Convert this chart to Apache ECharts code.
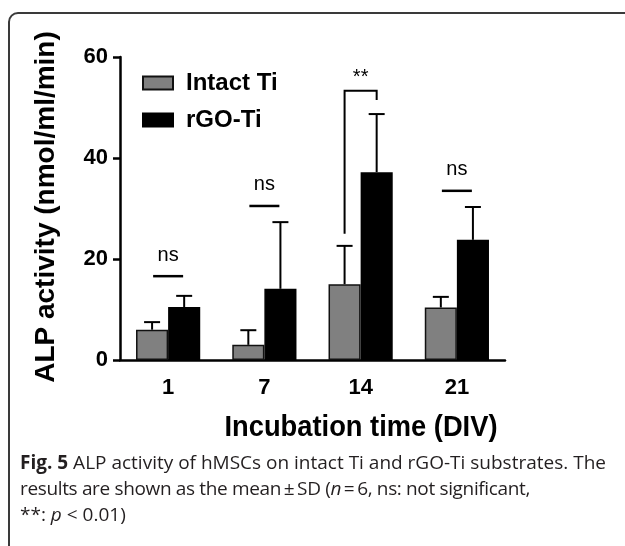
<!DOCTYPE html>
<html>
<head>
<meta charset="utf-8">
<script src="https://cdn.jsdelivr.net/npm/echarts@6/dist/echarts.min.js"></script>
<style>
  html, body { margin: 0; padding: 0; background: #fff; }
  #wrap { position: relative; width: 625px; height: 546px; overflow: hidden; }
  #frame { position: absolute; left: 8px; top: 12px; width: 700px; height: 600px;
           border: 2px solid #3a3a3a; border-radius: 10px; box-sizing: border-box; }
  #chart { position: absolute; left: 0; top: 0; width: 625px; height: 546px; }
  #caption { position: absolute; left: 20px; top: 449px; width: 605px; white-space: nowrap;
             font-family: 'Open Sans', sans-serif; font-size: 19px; line-height: 26px; color: #231f20; }
  #caption .tight { letter-spacing: -0.35px; }
</style>
</head>
<body>
<div id="wrap">
  <div id="frame"></div>
  <div id="chart"></div>
  <div id="caption"><b>Fig. 5</b> ALP activity of hMSCs on intact Ti and rGO-Ti substrates. The<br>
<span class="tight">results are shown as the mean&thinsp;±&thinsp;SD (<i>n</i>&thinsp;=&thinsp;6, ns: not significant,</span><br>
**: <i>p</i> &lt; 0.01)</div>
</div>
<script>
const days = ['1', '7', '14', '21'];
const intactMean = [6.0, 3.0, 15.0, 10.4];
const intactSd = [1.5, 2.9, 7.6, 2.1];
const rgoMean = [10.5, 14.1, 37.2, 23.8];
const rgoSd = [2.2, 13.2, 11.5, 6.5];
// significance marks, one per day
const sigText = ['ns', 'ns', '**', 'ns'];
const sigLevel = [16.6, 30.5, 53.3, 33.5];
// feet of the day-14 bracket: intact side, rGO side
const bracketFeet = [25.0, 51.5];
const yMin = 0, yMax = 60, yStep = 20;

const tickFont = { fontFamily: 'Liberation Sans Narrow, Liberation Sans', fontWeight: 'bold', fontSize: 22, color: '#000' };

const chart = echarts.init(document.getElementById('chart'));

// upper-only error bar, side -1 = left bar, +1 = right bar
function errorItem(side) {
    return function (params, api) {
        const i = api.value(0);
        const base = api.coord([i, api.value(1)]);
        const top = api.coord([i, api.value(1) + api.value(2)]);
        const band = api.size([1, 0])[0];
        const x = base[0] + side * band / 6;
        const cap = 8;
        return {
            type: 'group',
            children: [
                { type: 'line', shape: { x1: x, y1: base[1], x2: x, y2: top[1] }, style: { stroke: '#000', lineWidth: 2 } },
                { type: 'line', shape: { x1: x - cap, y1: top[1], x2: x + cap, y2: top[1] }, style: { stroke: '#000', lineWidth: 2 } }
            ]
        };
    };
}

function sigItem(params, api) {
    const i = api.value(0);
    const p = api.coord([i, api.value(1)]);
    const band = api.size([1, 0])[0];
    const label = sigText[i];
    if (label === '**') {
        const xl = p[0] - band / 6, xr = p[0] + band / 6;
        const yl = api.coord([i, bracketFeet[0]])[1];
        const yr = api.coord([i, bracketFeet[1]])[1];
        return {
            type: 'group',
            children: [
                { type: 'polyline', shape: { points: [[xl, yl], [xl, p[1]], [xr, p[1]], [xr, yr]] },
                  style: { stroke: '#000', lineWidth: 2, fill: null } },
                { type: 'text', x: p[0], y: p[1] - 13,
                  style: { text: label, fontSize: 20, fontFamily: 'Liberation Sans', fill: '#000', align: 'center', verticalAlign: 'middle' } }
            ]
        };
    }
    return {
        type: 'group',
        children: [
            { type: 'line', shape: { x1: p[0] - 15, y1: p[1], x2: p[0] + 15, y2: p[1] }, style: { stroke: '#000', lineWidth: 2.5 } },
            { type: 'text', x: p[0], y: p[1] - 21,
              style: { text: label, fontSize: 20, fontFamily: 'Liberation Sans', fill: '#000', align: 'center', verticalAlign: 'middle' } }
        ]
    };
}

chart.setOption({
    animation: false,
    grid: { left: 120, right: 120, top: 57, bottom: 186 },
    legend: {
        orient: 'vertical', left: 137, top: 66, itemWidth: 30, itemHeight: 13, itemGap: 13,
        icon: 'rect',
        textStyle: { fontFamily: 'Liberation Sans', fontWeight: 'bold', fontSize: 24, color: '#000', padding: [0, 0, 0, 8] },
        data: ['Intact Ti', 'rGO-Ti']
    },
    xAxis: {
        type: 'category', data: days,
        axisLine: { lineStyle: { color: '#000', width: 2.5 } },
        axisTick: { alignWithLabel: true, length: 7, lineStyle: { color: '#000', width: 2.5 } },
        axisLabel: Object.assign({ margin: 17 }, tickFont)
    },
    yAxis: {
        type: 'value', min: yMin, max: yMax, interval: yStep,
        splitLine: { show: false },
        axisLine: { show: true, lineStyle: { color: '#000', width: 2.5 } },
        axisTick: { show: true, length: 7, lineStyle: { color: '#000', width: 2.5 } },
        axisLabel: Object.assign({ margin: 12 }, tickFont)
    },
    graphic: [
        { type: 'text', rotation: Math.PI / 2, x: 46, y: 207,
          style: { text: 'ALP activity (nmol/ml/min)', fontFamily: 'Liberation Sans', fontWeight: 'bold', fontSize: 28,
                   fill: '#000', align: 'center', verticalAlign: 'middle' } },
        { type: 'text', x: 361, y: 428, scaleX: 0.91,
          style: { text: 'Incubation time (DIV)', fontFamily: 'Liberation Sans', fontWeight: 'bold', fontSize: 30,
                   fill: '#000', align: 'center', verticalAlign: 'middle' } }
    ],
    series: [
        { name: 'Intact Ti', type: 'bar', data: intactMean, barGap: '0%', barCategoryGap: '33.3%',
          itemStyle: { color: '#808080', borderColor: '#111', borderWidth: 1.5 } },
        { name: 'rGO-Ti', type: 'bar', data: rgoMean,
          itemStyle: { color: '#000', borderColor: '#000', borderWidth: 1.5 } },
        { type: 'custom', renderItem: errorItem(-1), data: days.map((d, i) => [i, intactMean[i], intactSd[i]]), z: 5 },
        { type: 'custom', renderItem: errorItem(1), data: days.map((d, i) => [i, rgoMean[i], rgoSd[i]]), z: 5 },
        { type: 'custom', renderItem: sigItem, data: days.map((d, i) => [i, sigLevel[i]]), z: 6 }
    ]
});
</script>
</body>
</html>
